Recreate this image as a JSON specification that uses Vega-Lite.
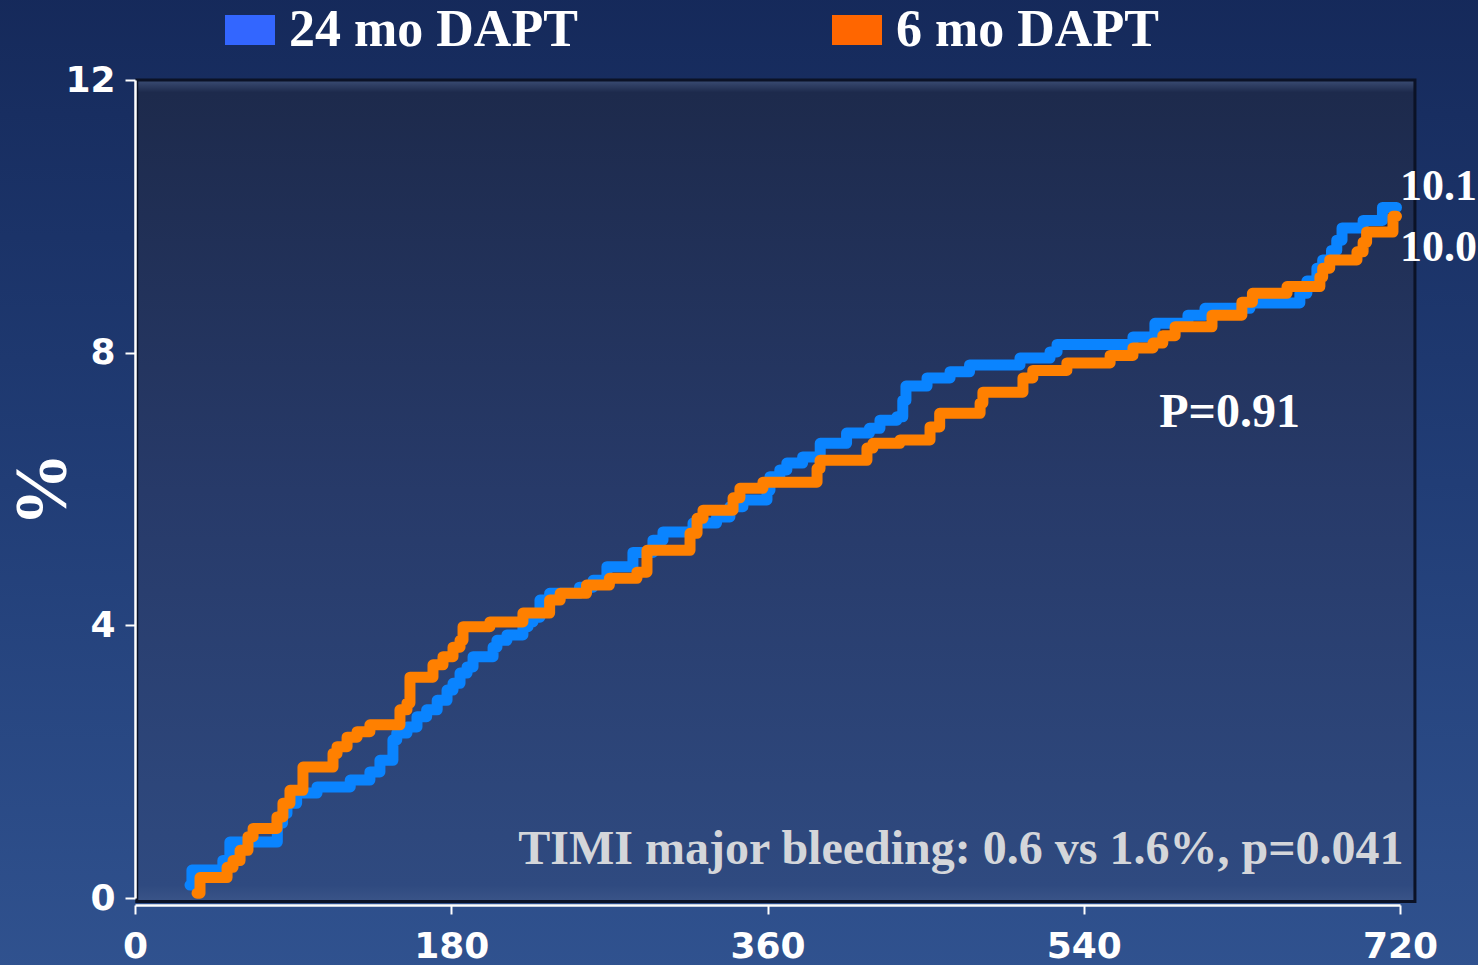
{
  "$schema": "https://vega.github.io/schema/vega-lite/v6.json",
  "width": 1265,
  "height": 818,
  "autosize": {"type": "none"},
  "padding": {"left": 135, "top": 80, "right": 78, "bottom": 67},
  "background": "#213c74",
  "config": {"view": {"stroke": null}},
  "datasets": {
    "curves": [
      {"series": "24 mo DAPT", "day": 31.3, "pct": 0.19},
      {"series": "24 mo DAPT", "day": 32.4, "pct": 0.41},
      {"series": "24 mo DAPT", "day": 50, "pct": 0.55},
      {"series": "24 mo DAPT", "day": 54, "pct": 0.82},
      {"series": "24 mo DAPT", "day": 81, "pct": 1.1},
      {"series": "24 mo DAPT", "day": 84, "pct": 1.24},
      {"series": "24 mo DAPT", "day": 86.5, "pct": 1.39},
      {"series": "24 mo DAPT", "day": 92, "pct": 1.54},
      {"series": "24 mo DAPT", "day": 103.6, "pct": 1.63},
      {"series": "24 mo DAPT", "day": 122.5, "pct": 1.73},
      {"series": "24 mo DAPT", "day": 133.7, "pct": 1.85},
      {"series": "24 mo DAPT", "day": 139.4, "pct": 2.02},
      {"series": "24 mo DAPT", "day": 146.8, "pct": 2.32},
      {"series": "24 mo DAPT", "day": 149, "pct": 2.42},
      {"series": "24 mo DAPT", "day": 154.8, "pct": 2.51},
      {"series": "24 mo DAPT", "day": 160.5, "pct": 2.66},
      {"series": "24 mo DAPT", "day": 166, "pct": 2.76},
      {"series": "24 mo DAPT", "day": 172, "pct": 2.9},
      {"series": "24 mo DAPT", "day": 177.6, "pct": 3.05},
      {"series": "24 mo DAPT", "day": 181, "pct": 3.15},
      {"series": "24 mo DAPT", "day": 185, "pct": 3.3},
      {"series": "24 mo DAPT", "day": 189, "pct": 3.39},
      {"series": "24 mo DAPT", "day": 192.4, "pct": 3.54},
      {"series": "24 mo DAPT", "day": 203.8, "pct": 3.68},
      {"series": "24 mo DAPT", "day": 206, "pct": 3.78},
      {"series": "24 mo DAPT", "day": 211.7, "pct": 3.86},
      {"series": "24 mo DAPT", "day": 220.8, "pct": 3.98},
      {"series": "24 mo DAPT", "day": 223.7, "pct": 4.05},
      {"series": "24 mo DAPT", "day": 226.5, "pct": 4.12},
      {"series": "24 mo DAPT", "day": 230.5, "pct": 4.37},
      {"series": "24 mo DAPT", "day": 236, "pct": 4.47},
      {"series": "24 mo DAPT", "day": 253, "pct": 4.56},
      {"series": "24 mo DAPT", "day": 260.7, "pct": 4.66},
      {"series": "24 mo DAPT", "day": 268.6, "pct": 4.86},
      {"series": "24 mo DAPT", "day": 283.4, "pct": 5.07},
      {"series": "24 mo DAPT", "day": 294.8, "pct": 5.25},
      {"series": "24 mo DAPT", "day": 300.5, "pct": 5.37},
      {"series": "24 mo DAPT", "day": 317.6, "pct": 5.5},
      {"series": "24 mo DAPT", "day": 331, "pct": 5.59},
      {"series": "24 mo DAPT", "day": 338.6, "pct": 5.74},
      {"series": "24 mo DAPT", "day": 346, "pct": 5.84},
      {"series": "24 mo DAPT", "day": 359.7, "pct": 5.98},
      {"series": "24 mo DAPT", "day": 361.4, "pct": 6.18},
      {"series": "24 mo DAPT", "day": 367, "pct": 6.28},
      {"series": "24 mo DAPT", "day": 371, "pct": 6.38},
      {"series": "24 mo DAPT", "day": 380, "pct": 6.47},
      {"series": "24 mo DAPT", "day": 390, "pct": 6.67},
      {"series": "24 mo DAPT", "day": 405, "pct": 6.82},
      {"series": "24 mo DAPT", "day": 418, "pct": 6.89},
      {"series": "24 mo DAPT", "day": 424, "pct": 7.01},
      {"series": "24 mo DAPT", "day": 433.7, "pct": 7.06},
      {"series": "24 mo DAPT", "day": 437, "pct": 7.3},
      {"series": "24 mo DAPT", "day": 438.8, "pct": 7.51},
      {"series": "24 mo DAPT", "day": 450.8, "pct": 7.63},
      {"series": "24 mo DAPT", "day": 463.9, "pct": 7.72},
      {"series": "24 mo DAPT", "day": 475, "pct": 7.82},
      {"series": "24 mo DAPT", "day": 503.7, "pct": 7.92},
      {"series": "24 mo DAPT", "day": 520.8, "pct": 8.01},
      {"series": "24 mo DAPT", "day": 524.8, "pct": 8.12},
      {"series": "24 mo DAPT", "day": 568, "pct": 8.23},
      {"series": "24 mo DAPT", "day": 580.5, "pct": 8.43},
      {"series": "24 mo DAPT", "day": 599.3, "pct": 8.55},
      {"series": "24 mo DAPT", "day": 609, "pct": 8.65},
      {"series": "24 mo DAPT", "day": 634.6, "pct": 8.73},
      {"series": "24 mo DAPT", "day": 663, "pct": 8.87},
      {"series": "24 mo DAPT", "day": 667, "pct": 9.05},
      {"series": "24 mo DAPT", "day": 672.7, "pct": 9.24},
      {"series": "24 mo DAPT", "day": 676, "pct": 9.36},
      {"series": "24 mo DAPT", "day": 681, "pct": 9.5},
      {"series": "24 mo DAPT", "day": 684, "pct": 9.65},
      {"series": "24 mo DAPT", "day": 687, "pct": 9.83},
      {"series": "24 mo DAPT", "day": 699, "pct": 9.94},
      {"series": "24 mo DAPT", "day": 710, "pct": 10.13},
      {"series": "24 mo DAPT", "day": 718, "pct": 10.13},
      {"series": "6 mo DAPT", "day": 35.3, "pct": 0.07},
      {"series": "6 mo DAPT", "day": 37, "pct": 0.3},
      {"series": "6 mo DAPT", "day": 52.4, "pct": 0.45},
      {"series": "6 mo DAPT", "day": 55.8, "pct": 0.55},
      {"series": "6 mo DAPT", "day": 59.8, "pct": 0.7},
      {"series": "6 mo DAPT", "day": 64.3, "pct": 0.9},
      {"series": "6 mo DAPT", "day": 67.2, "pct": 1.02},
      {"series": "6 mo DAPT", "day": 80.8, "pct": 1.19},
      {"series": "6 mo DAPT", "day": 84.2, "pct": 1.39},
      {"series": "6 mo DAPT", "day": 88.2, "pct": 1.58},
      {"series": "6 mo DAPT", "day": 95.6, "pct": 1.92},
      {"series": "6 mo DAPT", "day": 112.7, "pct": 2.12},
      {"series": "6 mo DAPT", "day": 115, "pct": 2.22},
      {"series": "6 mo DAPT", "day": 120.7, "pct": 2.36},
      {"series": "6 mo DAPT", "day": 126.4, "pct": 2.44},
      {"series": "6 mo DAPT", "day": 133.7, "pct": 2.54},
      {"series": "6 mo DAPT", "day": 150.8, "pct": 2.76},
      {"series": "6 mo DAPT", "day": 154.8, "pct": 2.86},
      {"series": "6 mo DAPT", "day": 156.5, "pct": 3.24},
      {"series": "6 mo DAPT", "day": 169.6, "pct": 3.42},
      {"series": "6 mo DAPT", "day": 175.3, "pct": 3.54},
      {"series": "6 mo DAPT", "day": 181, "pct": 3.68},
      {"series": "6 mo DAPT", "day": 185, "pct": 3.78},
      {"series": "6 mo DAPT", "day": 186.7, "pct": 3.98},
      {"series": "6 mo DAPT", "day": 202, "pct": 4.05},
      {"series": "6 mo DAPT", "day": 220.8, "pct": 4.18},
      {"series": "6 mo DAPT", "day": 236, "pct": 4.37},
      {"series": "6 mo DAPT", "day": 242, "pct": 4.47},
      {"series": "6 mo DAPT", "day": 257, "pct": 4.59},
      {"series": "6 mo DAPT", "day": 270, "pct": 4.69},
      {"series": "6 mo DAPT", "day": 285.7, "pct": 4.78},
      {"series": "6 mo DAPT", "day": 291.4, "pct": 5.1},
      {"series": "6 mo DAPT", "day": 315.9, "pct": 5.35},
      {"series": "6 mo DAPT", "day": 319.9, "pct": 5.57},
      {"series": "6 mo DAPT", "day": 323.3, "pct": 5.69},
      {"series": "6 mo DAPT", "day": 340.4, "pct": 5.87},
      {"series": "6 mo DAPT", "day": 344.3, "pct": 6.01},
      {"series": "6 mo DAPT", "day": 357.4, "pct": 6.1},
      {"series": "6 mo DAPT", "day": 388.2, "pct": 6.3},
      {"series": "6 mo DAPT", "day": 389.9, "pct": 6.42},
      {"series": "6 mo DAPT", "day": 416.6, "pct": 6.6},
      {"series": "6 mo DAPT", "day": 420, "pct": 6.67},
      {"series": "6 mo DAPT", "day": 435.4, "pct": 6.72},
      {"series": "6 mo DAPT", "day": 452.5, "pct": 6.91},
      {"series": "6 mo DAPT", "day": 458, "pct": 7.11},
      {"series": "6 mo DAPT", "day": 481, "pct": 7.26},
      {"series": "6 mo DAPT", "day": 482.6, "pct": 7.42},
      {"series": "6 mo DAPT", "day": 505.4, "pct": 7.63},
      {"series": "6 mo DAPT", "day": 511, "pct": 7.74},
      {"series": "6 mo DAPT", "day": 530.4, "pct": 7.85},
      {"series": "6 mo DAPT", "day": 555, "pct": 7.96},
      {"series": "6 mo DAPT", "day": 568, "pct": 8.07},
      {"series": "6 mo DAPT", "day": 579.4, "pct": 8.14},
      {"series": "6 mo DAPT", "day": 585, "pct": 8.25},
      {"series": "6 mo DAPT", "day": 592, "pct": 8.38},
      {"series": "6 mo DAPT", "day": 613, "pct": 8.55},
      {"series": "6 mo DAPT", "day": 630, "pct": 8.74},
      {"series": "6 mo DAPT", "day": 636, "pct": 8.87},
      {"series": "6 mo DAPT", "day": 655.7, "pct": 8.97},
      {"series": "6 mo DAPT", "day": 674.4, "pct": 9.11},
      {"series": "6 mo DAPT", "day": 676, "pct": 9.24},
      {"series": "6 mo DAPT", "day": 680, "pct": 9.36},
      {"series": "6 mo DAPT", "day": 695.5, "pct": 9.48},
      {"series": "6 mo DAPT", "day": 699, "pct": 9.62},
      {"series": "6 mo DAPT", "day": 701, "pct": 9.77},
      {"series": "6 mo DAPT", "day": 716, "pct": 10.0},
      {"series": "6 mo DAPT", "day": 718, "pct": 10.0}
    ],
    "endLabels": [
      {"day": 720, "pct": 10.43, "label": "10.1"},
      {"day": 720, "pct": 9.53, "label": "10.0"}
    ],
    "one": [{"n": 1}]
  },
  "layer": [
    {
      "data": {"name": "one"},
      "mark": {
        "type": "rect",
        "fill": {
          "gradient": "linear", "x1": 0, "y1": 0, "x2": 0, "y2": 1,
          "stops": [
            {"offset": 0, "color": "#15295a"},
            {"offset": 0.5, "color": "#213d76"},
            {"offset": 1, "color": "#30528f"}
          ]
        }
      },
      "encoding": {
        "x": {"datum": -80, "type": "quantitative", "scale": {"domain": [0, 720], "nice": false}},
        "x2": {"datum": 770},
        "y": {"datum": -1.1, "type": "quantitative", "scale": {"domain": [0, 12], "nice": false}},
        "y2": {"datum": 13.3}
      }
    },
    {
      "data": {"name": "one"},
      "mark": {
        "type": "rect",
        "stroke": "#0b1226",
        "strokeWidth": 3,
        "fill": {
          "gradient": "linear", "x1": 0, "y1": 0, "x2": 0, "y2": 1,
          "stops": [
            {"offset": 0, "color": "#3b4d74"},
            {"offset": 0.015, "color": "#1d2a4c"},
            {"offset": 0.5, "color": "#273a69"},
            {"offset": 0.98, "color": "#2f4a80"},
            {"offset": 1, "color": "#3a5488"}
          ]
        }
      },
      "encoding": {
        "x": {"datum": 1, "type": "quantitative"},
        "x2": {"datum": 728.5},
        "y": {"datum": -0.05, "type": "quantitative"},
        "y2": {"datum": 12}
      }
    },
    {
      "data": {"name": "curves"},
      "mark": {"type": "line", "interpolate": "step-after", "strokeWidth": 11, "strokeCap": "round", "strokeJoin": "round"},
      "encoding": {
        "x": {
          "field": "day", "type": "quantitative",
          "scale": {"domain": [0, 720], "nice": false},
          "axis": {
            "values": [0, 180, 360, 540, 720], "title": null, "grid": false, "offset": 7, "zindex": 2, "format": "d",
            "domainColor": "#ffffff", "domainWidth": 2.5, "tickColor": "#ffffff", "tickWidth": 2, "tickSize": 9,
            "labelFont": "DejaVu Sans", "labelFontWeight": "bold", "labelFontSize": 36, "labelColor": "#ffffff",
            "labelPadding": 15, "labelFlush": false, "labelOverlap": false
          }
        },
        "y": {
          "field": "pct", "type": "quantitative",
          "scale": {"domain": [0, 12], "nice": false},
          "axis": {
            "values": [0, 4, 8, 12], "title": "%", "grid": false, "zindex": 2, "format": "d",
            "domainColor": "#ffffff", "domainWidth": 2.5, "tickColor": "#ffffff", "tickWidth": 2, "tickSize": 10,
            "labelFont": "DejaVu Sans", "labelFontWeight": "bold", "labelFontSize": 36, "labelColor": "#ffffff",
            "labelPadding": 10, "labelFlush": false, "labelOverlap": false,
            "titleFont": "Liberation Serif", "titleFontWeight": "bold", "titleFontSize": 74, "titleColor": "#ffffff",
            "titleAngle": -90, "titleAlign": "center", "titleBaseline": "middle", "titleX": -92, "titleY": 409
          }
        },
        "color": {
          "field": "series", "type": "nominal",
          "scale": {"domain": ["24 mo DAPT", "6 mo DAPT"], "range": ["#0a84ff", "#ff8000"]},
          "legend": {
            "orient": "none", "legendX": 89, "legendY": -76, "direction": "horizontal", "columns": 2,
            "title": null, "padding": 0,
            "symbolType": "M-1,-0.6H1V0.6H-1Z", "symbolSize": 2500, "symbolStrokeWidth": 0,
            "labelFont": "Liberation Serif", "labelFontWeight": "bold", "labelFontSize": 52, "labelColor": "#ffffff",
            "labelOffset": 13, "columnPadding": 253, "labelLimit": 600,
            "encode": {
              "symbols": {
                "update": {
                  "fill": {"signal": "datum.value === '24 mo DAPT' ? '#3366ff' : '#ff6600'"},
                  "stroke": {"value": "transparent"},
                  "opacity": {"value": 1}
                }
              }
            }
          }
        }
      }
    },
    {
      "data": {"name": "endLabels"},
      "mark": {"type": "text", "align": "left", "baseline": "middle", "font": "Liberation Serif", "fontWeight": "bold", "fontSize": 44, "color": "#ffffff"},
      "encoding": {
        "x": {"field": "day", "type": "quantitative"},
        "y": {"field": "pct", "type": "quantitative"},
        "text": {"field": "label"}
      }
    },
    {
      "data": {"name": "one"},
      "mark": {"type": "text", "align": "center", "baseline": "middle", "font": "Liberation Serif", "fontWeight": "bold", "fontSize": 48, "color": "#ffffff", "text": "P=0.91"},
      "encoding": {
        "x": {"datum": 623, "type": "quantitative"},
        "y": {"datum": 7.11, "type": "quantitative"}
      }
    },
    {
      "data": {"name": "one"},
      "mark": {"type": "text", "align": "right", "baseline": "middle", "font": "Liberation Serif", "fontWeight": "bold", "fontSize": 48, "color": "#d4d6da", "text": "TIMI major bleeding: 0.6 vs 1.6%, p=0.041"},
      "encoding": {
        "x": {"datum": 722, "type": "quantitative"},
        "y": {"datum": 0.7, "type": "quantitative"}
      }
    }
  ]
}
